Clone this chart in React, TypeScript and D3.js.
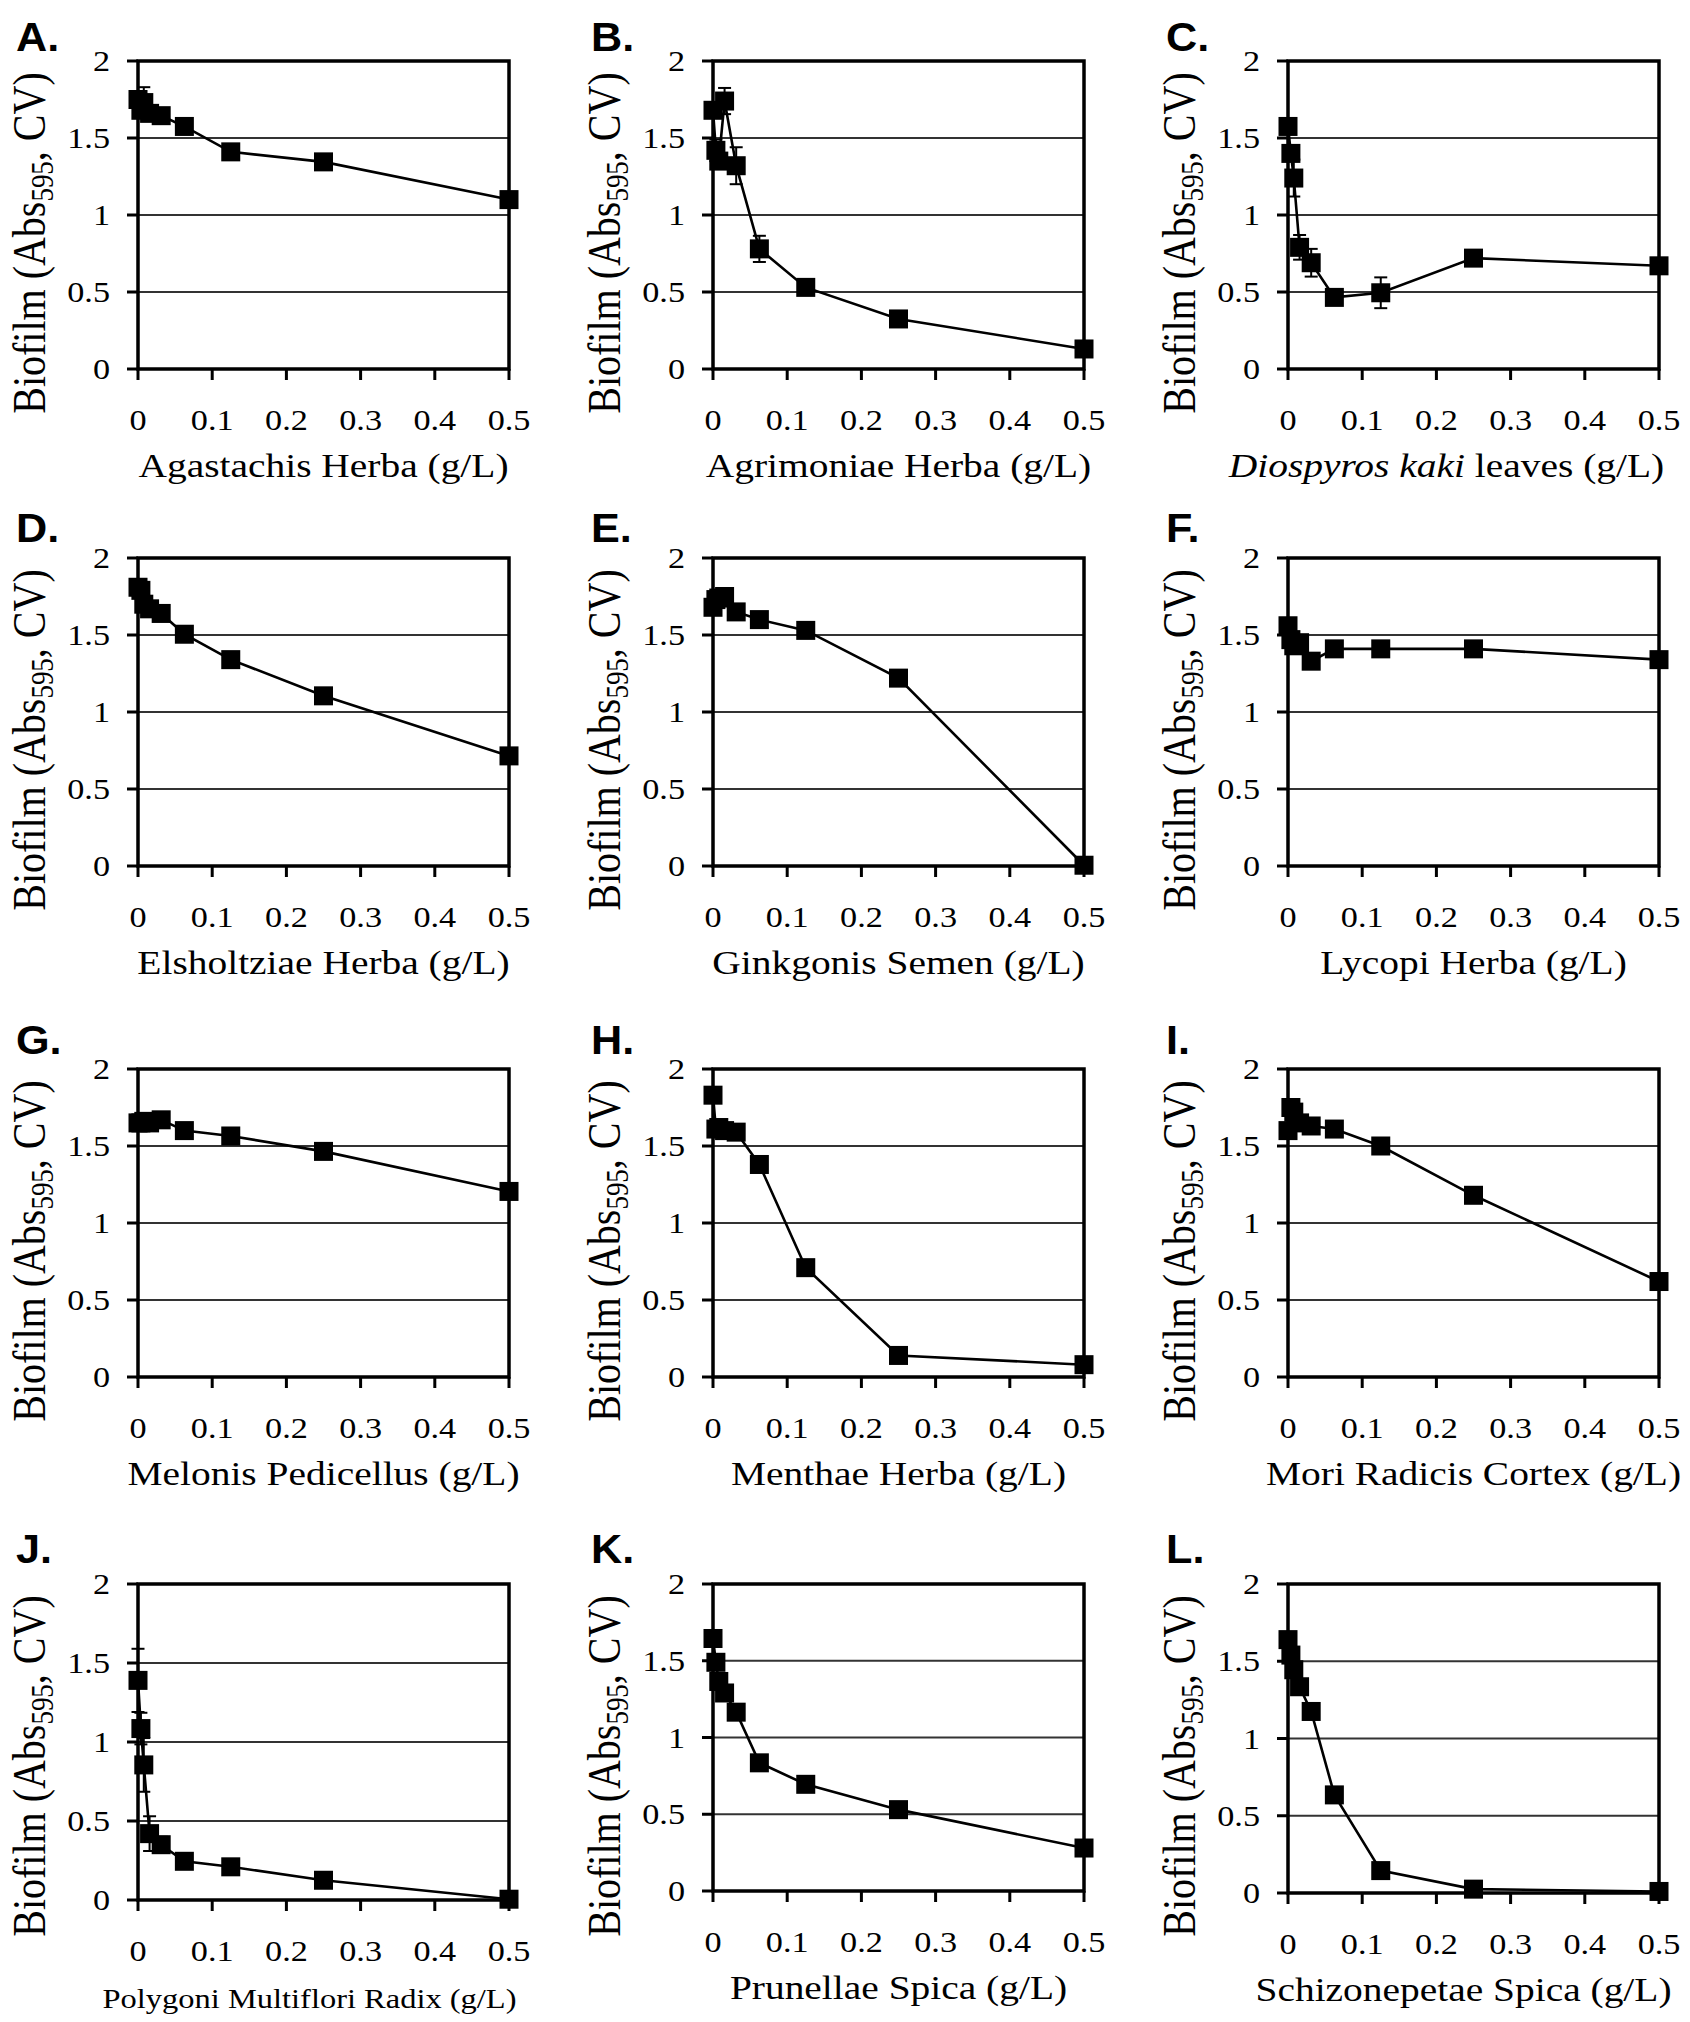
import React from 'react';
import * as d3 from 'd3';

// ---- shared axes ----
const conc = [0, 0.0039, 0.0078, 0.0156, 0.03125, 0.0625, 0.125, 0.25, 0.5];
const xTicks = [0, 0.1, 0.2, 0.3, 0.4, 0.5];
const xTickLabels = ['0', '0.1', '0.2', '0.3', '0.4', '0.5'];
const yTicks = [0, 0.5, 1, 1.5, 2];
const yTickLabels = ['0', '0.5', '1', '1.5', '2'];
const gridValues = [0.5, 1, 1.5];

// ---- series (biofilm, Abs595 CV) ----
const agastachis = [1.75, 1.68, 1.73, 1.66, 1.645, 1.575, 1.41, 1.345, 1.1];
const agastachisErr = [0.03, 0.03, 0.1, 0.03, 0.03, 0.02, 0.02, 0.02, 0.03];
const agrimoniae = [1.68, 1.42, 1.35, 1.74, 1.32, 0.78, 0.53, 0.325, 0.13];
const agrimoniaeErr = [0.03, 0.07, 0.04, 0.085, 0.12, 0.085, 0.02, 0.02, 0.02];
const diospyros = [1.575, 1.4, 1.24, 0.79, 0.69, 0.465, 0.495, 0.72, 0.67];
const diospyrosErr = [0.03, 0.05, 0.12, 0.08, 0.09, 0.02, 0.1, 0.02, 0.02];
const elsholtziae = [1.81, 1.79, 1.7, 1.67, 1.64, 1.505, 1.34, 1.105, 0.715];
const elsholtziaeErr = [0.03, 0.03, 0.03, 0.03, 0.03, 0.02, 0.02, 0.02, 0.02];
const ginkgonis = [1.68, 1.73, 1.74, 1.75, 1.65, 1.6, 1.53, 1.22, 0.005];
const ginkgonisErr = [0.03, 0.04, 0.04, 0.04, 0.03, 0.02, 0.02, 0.02, 0.01];
const lycopi = [1.56, 1.47, 1.43, 1.45, 1.33, 1.41, 1.41, 1.41, 1.34];
const lycopiErr = [0.03, 0.03, 0.03, 0.03, 0.03, 0.02, 0.02, 0.02, 0.02];
const melonis = [1.65, 1.65, 1.66, 1.65, 1.67, 1.6, 1.565, 1.465, 1.205];
const melonisErr = [0.02, 0.02, 0.02, 0.02, 0.02, 0.02, 0.02, 0.02, 0.02];
const menthae = [1.83, 1.61, 1.62, 1.6, 1.59, 1.38, 0.71, 0.14, 0.08];
const menthaeErr = [0.03, 0.03, 0.03, 0.03, 0.03, 0.03, 0.03, 0.02, 0.02];
const mori = [1.6, 1.75, 1.72, 1.65, 1.63, 1.61, 1.5, 1.18, 0.62];
const moriErr = [0.03, 0.03, 0.03, 0.03, 0.03, 0.02, 0.02, 0.02, 0.02];
const polygoni = [1.39, 1.085, 0.855, 0.42, 0.35, 0.245, 0.21, 0.125, 0.005];
const polygoniErr = [0.2, 0.1, 0.17, 0.11, 0.05, 0.02, 0.02, 0.02, 0.01];
const prunellae = [1.645, 1.49, 1.365, 1.29, 1.165, 0.835, 0.695, 0.53, 0.28];
const prunellaeErr = [0.03, 0.03, 0.03, 0.03, 0.03, 0.02, 0.02, 0.02, 0.02];
const schizonepetae = [1.64, 1.54, 1.445, 1.335, 1.175, 0.635, 0.145, 0.025, 0.01];
const schizonepetaeErr = [0.03, 0.03, 0.03, 0.03, 0.03, 0.02, 0.02, 0.01, 0.01];

const letters = ['A.', 'B.', 'C.', 'D.', 'E.', 'F.', 'G.', 'H.', 'I.', 'J.', 'K.', 'L.'];
const titles = [
  'Agastachis Herba (g/L)',
  'Agrimoniae Herba (g/L)',
  'Diospyros kaki|| leaves (g/L)',
  'Elsholtziae Herba (g/L)',
  'Ginkgonis Semen (g/L)',
  'Lycopi Herba (g/L)',
  'Melonis Pedicellus (g/L)',
  'Menthae Herba (g/L)',
  'Mori Radicis Cortex (g/L)',
  'Polygoni Multiflori Radix (g/L)',
  'Prunellae Spica (g/L)',
  'Schizonepetae Spica (g/L)',
];
const seriesList = [agastachis, agrimoniae, diospyros, elsholtziae, ginkgonis, lycopi, melonis, menthae, mori, polygoni, prunellae, schizonepetae];
const errorList = [agastachisErr, agrimoniaeErr, diospyrosErr, elsholtziaeErr, ginkgonisErr, lycopiErr, melonisErr, menthaeErr, moriErr, polygoniErr, prunellaeErr, schizonepetaeErr];

// ---- layout ----
const W = 1690;
const H = 2022;
const colLefts = [138, 713, 1288];
const rowTops = [61, 558, 1069, 1584];
const letterOffsets = [-10, -16, -15, -21];
const plotW = 371;
const plotHeights = [308, 308, 308, 308, 308, 308, 308, 308, 308, 316, 307, 309];
const titleShifts = [0, 0, -27, 0, 0, 0, 0, 0, 0, -14, 0, -10];
const titleSizes = [34, 34, 34, 34, 34, 34, 34, 34, 34, 28, 34, 34];
const SX = 1.16;
const SERIF = '"Liberation Serif", "Times New Roman", serif';
const SANS = '"Liberation Sans", Arial, sans-serif';

function Panel({ i }: { i: number }) {
  const col = i % 3;
  const row = Math.floor(i / 3);
  const left = colLefts[col];
  const top = rowTops[row];
  const h = plotHeights[i];
  const x = d3.scaleLinear().domain([0, 0.5]).range([left, left + plotW]);
  const y = d3.scaleLinear().domain([0, 2]).range([top + h, top]);
  const vals = seriesList[i];
  const errs = errorList[i];
  const pts = conc.map((c, k) => ({ c, v: vals[k], e: errs[k] }));
  const line = d3.line<{ c: number; v: number }>().x((d) => x(d.c)).y((d) => y(d.v));
  const bottom = y(0);
  const ms = 19;
  const cap = 6.5;
  const titleRaw = titles[i];
  const titleParts = titleRaw.split('||');
  const titleFs = titleSizes[i];
  const ylabX = left - 93;
  const ylabY = top + 182;

  return (
    <g>
      {/* letter */}
      <text
        transform={`translate(${left - 122},${top + letterOffsets[row]}) scale(1.08,1)`}
        fontFamily={SANS}
        fontWeight="bold"
        fontSize={40}
        fill="#000"
      >
        {letters[i]}
      </text>
      {/* grid */}
      {gridValues.map((g) => (
        <line key={'g' + g} x1={x(0)} x2={x(0.5)} y1={y(g)} y2={y(g)} stroke="#333" strokeWidth={1.8} />
      ))}
      {/* frame */}
      <rect x={x(0)} y={y(2)} width={x(0.5) - x(0)} height={y(0) - y(2)} fill="none" stroke="#000" strokeWidth={3.5} />
      {/* y ticks */}
      {yTicks.map((t, k) => (
        <g key={'yt' + k}>
          <line x1={x(0) - 11} x2={x(0)} y1={y(t)} y2={y(t)} stroke="#000" strokeWidth={3} />
          <text
            transform={`translate(${x(0) - 28},${y(t) + 10}) scale(${SX},1)`}
            textAnchor="end"
            fontFamily={SERIF}
            fontSize={29.5}
            fill="#000"
          >
            {yTickLabels[k]}
          </text>
        </g>
      ))}
      {/* x ticks */}
      {xTicks.map((t, k) => (
        <g key={'xt' + k}>
          <line x1={x(t)} x2={x(t)} y1={bottom} y2={bottom + 11} stroke="#000" strokeWidth={3} />
          <text
            transform={`translate(${x(t)},${bottom + 61}) scale(${SX},1)`}
            textAnchor="middle"
            fontFamily={SERIF}
            fontSize={29.5}
            fill="#000"
          >
            {xTickLabels[k]}
          </text>
        </g>
      ))}
      {/* error bars */}
      {pts.map((d, k) => (
        <g key={'e' + k} stroke="#000" strokeWidth={2}>
          <line x1={x(d.c)} x2={x(d.c)} y1={y(d.v + d.e)} y2={y(Math.max(0, d.v - d.e))} />
          <line x1={x(d.c) - cap} x2={x(d.c) + cap} y1={y(d.v + d.e)} y2={y(d.v + d.e)} />
          <line x1={x(d.c) - cap} x2={x(d.c) + cap} y1={y(Math.max(0, d.v - d.e))} y2={y(Math.max(0, d.v - d.e))} />
        </g>
      ))}
      {/* line */}
      <path d={line(pts) || ''} fill="none" stroke="#000" strokeWidth={2.6} />
      {/* markers */}
      {pts.map((d, k) => (
        <rect key={'m' + k} x={x(d.c) - ms / 2} y={y(d.v) - ms / 2} width={ms} height={ms} fill="#000" />
      ))}
      {/* y label */}
      <text
        transform={`translate(${ylabX},${ylabY}) scale(${SX},1) rotate(-90)`}
        textAnchor="middle"
        fontFamily={SERIF}
        fontSize={40}
        fill="#000"
      >
        Biofilm (Abs
        <tspan fontSize={27} dy={7}>595</tspan>
        <tspan dy={-7}>, CV)</tspan>
      </text>
      {/* x title */}
      <text
        transform={`translate(${left + plotW / 2 + titleShifts[i]},${bottom + 108}) scale(${SX},1)`}
        textAnchor="middle"
        fontFamily={SERIF}
        fontSize={titleFs}
        fill="#000"
      >
        {titleParts.length > 1 ? (
          <>
            <tspan fontStyle="italic">{titleParts[0]}</tspan>
            {titleParts[1]}
          </>
        ) : (
          titleRaw
        )}
      </text>
    </g>
  );
}

export default function App() {
  return (
    <svg
      width={W}
      height={H}
      viewBox={`0 0 ${W} ${H}`}
      style={{ position: 'absolute', left: 0, top: 0, background: '#fff' }}
    >
      <rect x={0} y={0} width={W} height={H} fill="#fff" />
      {letters.map((_, i) => (
        <Panel key={i} i={i} />
      ))}
    </svg>
  );
}
